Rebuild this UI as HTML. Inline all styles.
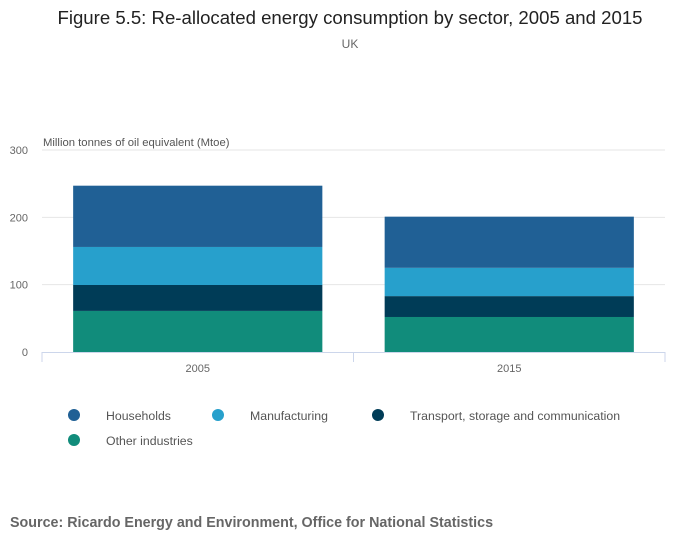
<!DOCTYPE html>
<html><head><meta charset="utf-8"><style>
body{margin:0;background:#fff;font-family:"Liberation Sans",sans-serif;}
svg text{font-family:"Liberation Sans",sans-serif;}
</style></head><body>
<svg id="c" width="700" height="549" xmlns="http://www.w3.org/2000/svg">
<text x="350" y="24" text-anchor="middle" font-size="18.6" fill="#222">Figure 5.5: Re-allocated energy consumption by sector, 2005 and 2015</text>
<text x="350" y="48" text-anchor="middle" font-size="12" fill="#666">UK</text>
<text x="43" y="146" font-size="11.3" fill="#555">Million tonnes of oil equivalent (Mtoe)</text>
<g id="grid"></g><g id="bars"></g><g id="axes"></g><g id="legend"></g>
<text x="10" y="527" font-size="14.3" font-weight="bold" fill="#666">Source: Ricardo Energy and Environment, Office for National Statistics</text>
</svg>
<script>
const categories=["2005","2015"];
const households=[91,76];
const manufacturing=[56.5,42];
const transport=[38.5,31];
const otherIndustries=[61,52];
const yTicks=[0,100,200,300];
const seriesNames=["Households","Manufacturing","Transport, storage and communication","Other industries"];
const colors=["#206095","#27a0cc","#003c57","#118c7b"];
const NS="http://www.w3.org/2000/svg";
const x0=42,x1=665,y0=352,yTop=150,yMax=300;
const y=v=>y0-(v/yMax)*(y0-yTop);
const bw=(x1-x0)/categories.length;
function mk(tag,attrs,parent,text){const e=document.createElementNS(NS,tag);for(const k in attrs)e.setAttribute(k,attrs[k]);if(text!==undefined)e.textContent=text;parent.appendChild(e);return e;}
const grid=document.getElementById('grid'),bars=document.getElementById('bars'),axes=document.getElementById('axes'),legend=document.getElementById('legend');
yTicks.forEach(t=>{
 if(t>0){const l=mk('line',{x1:x0,x2:x1,y1:y(t),y2:y(t),stroke:'#e6e6e6'},grid);
 
 }
 const tx=mk('text',{x:28,y:y(t)+4,'text-anchor':'end','font-size':11,fill:'#666'},axes,String(t));
 
 
});
const series=[otherIndustries,transport,manufacturing,households];
const sColors=[colors[3],colors[2],colors[1],colors[0]];
const sNames=['other-industries','transport','manufacturing','households'];
categories.forEach((c,i)=>{
 let base=0;const bx=x0+i*bw+bw*0.1,w=bw*0.8;
 series.forEach((s,j)=>{
  const r=mk('rect',{x:bx,y:y(base+s[i]),width:w,height:y(base)-y(base+s[i]),fill:sColors[j]},bars);
  
  
  base+=s[i];
 });
 const tx=mk('text',{x:x0+i*bw+bw/2,y:372,'text-anchor':'middle','font-size':11,fill:'#666'},axes,c);
 
 
 const tk=mk('line',{x1:x0+(i+1)*bw,x2:x0+(i+1)*bw,y1:y0,y2:y0+10,stroke:'#ccd6eb'},axes);
 
 
});
const t0=mk('line',{x1:x0,x2:x0,y1:y0,y2:y0+10,stroke:'#ccd6eb'},axes);


const ax=mk('line',{x1:x0,x2:x1,y1:y0+0.5,y2:y0+0.5,stroke:'#ccd6eb'},axes);


const lpos=[[74,416],[218,416],[378,416],[74,441]];
seriesNames.forEach((n,i)=>{
 const g=mk('g',{},legend);
 
 
 mk('circle',{cx:lpos[i][0],cy:lpos[i][1]-1,r:6,fill:colors[i]},g);
 mk('text',{x:lpos[i][0]+32,y:lpos[i][1]+4,'font-size':12.3,fill:'#555'},g,n);
});
</script>
</body></html>
